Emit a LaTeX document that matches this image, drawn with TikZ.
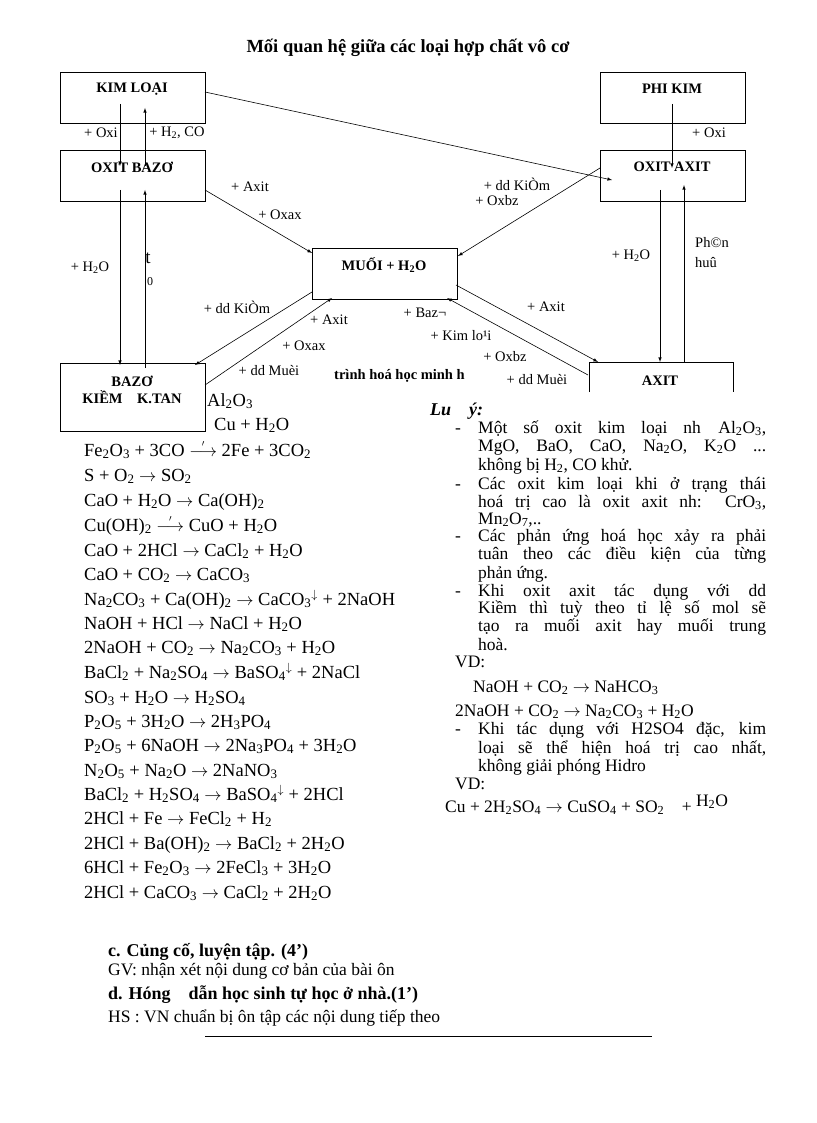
\documentclass[tikz,border=0pt]{standalone}
\usepackage{fontspec}
\setmainfont{Liberation Serif}
\usepackage{amsmath}
\newcommand{\zs}[1]{\textsubscript{#1}}
\newcommand{\ra}{ $\rightarrow$ }
\newcommand{\rat}{ $\overset{\scriptscriptstyle\prime}{\longrightarrow}$ }
\newcommand{\jl}[1]{\makebox[288pt][s]{#1}}
\begin{document}
\begin{tikzpicture}[x=1pt,y=-1pt,
  box/.style={draw,thick,minimum width=145pt,minimum height=51pt,anchor=north west,inner sep=0pt},
  btxt/.style={font=\bfseries\fontsize{14.5}{15}\selectfont},
  lbl/.style={font=\fontsize{14.5}{15}\selectfont,inner sep=1pt},
  eq/.style={font=\fontsize{18.5}{20}\selectfont,anchor=base west,inner sep=0pt},
  nt/.style={font=\fontsize{17.5}{18}\selectfont,anchor=base west,inner sep=0pt},
  arr/.style={-latex,semithick}]
\useasboundingbox (0,0) rectangle (816,1123);
\node[font=\bfseries\fontsize{18.5}{20}\selectfont] (title) at (408,48) {Mối quan hệ giữa các loại hợp chất vô cơ};
% boxes
\node[box] (kl) at (60,72) {};
\node[btxt] at (132,89) {KIM LOẠI};
\node[box] (pk) at (600,72) {};
\node[btxt] at (672,89) {PHI KIM};
\node[box] (ob) at (60,150) {};
\node[btxt] at (132,167) {OXIT BAZƠ};
\node[box] (oa) at (600,150) {};
\node[btxt] at (672,167) {OXIT AXIT};
\node[box] (mu) at (312,248) {};
\node[btxt] at (384,265) {MUỐI + H\zs{2}O};
\node[box,minimum height=68pt] (bz) at (60,363) {};
\node[btxt] at (132,381) {BAZƠ};
\node[btxt] at (132,397) {KIỀM\quad K.TAN};
\draw[thick] (589,392) -- (589,362) coordinate (ax) -- (733,362) -- (733,392);
\node[btxt] at (660,381) {AXIT};
% connectors
\coordinate (a1) at (205,92); \coordinate (a2) at (612,180);
\draw[arr] (a1) -- (a2);
\draw[arr] (120,104) -- (120,166);
\draw[arr] (145,166) -- (145,108);
\draw[arr] (672,104) -- (672,168);
\draw[arr] (120,190) -- (120,365);
\draw[arr] (145,368) -- (145,190);
\draw[arr] (205,190) -- (312,253);
\draw[arr] (600,168) -- (458,256);
\draw[arr] (660,190) -- (660,362);
\draw[arr] (684,362) -- (684,185);
\draw[arr] (312,292) -- (195,365);
\draw[arr] (205,385) -- (332,298);
\draw[arr] (456,285) -- (598,362);
\draw[arr] (588,375) -- (447,298);
% labels
\node[lbl] at (101,133) {+ Oxi};
\node[lbl] at (177,133) {+ H\zs{2}, CO};
\node[lbl] at (709,133) {+ Oxi};
\node[lbl] at (250,187) {+ Axit};
\node[lbl] at (280,215) {+ Oxax};
\node[lbl] at (90,268) {+ H\zs{2}O};
\node[font=\fontsize{19}{20}\selectfont] at (148,258) {t};
\node[lbl,font=\fontsize{12}{12}\selectfont] at (150,282) {0};
\node[lbl] at (517,184) {+ dd KiÒm};
\node[lbl] at (497,201) {+ Oxbz};
\node[lbl] at (631,256) {+ H\zs{2}O};
\node[lbl,anchor=west] at (694,243) {Ph©n};
\node[lbl,anchor=west] at (694,263) {huû};
\node[lbl] at (237,307) {+ dd KiÒm};
\node[lbl] at (329,320) {+ Axit};
\node[lbl] at (304,346) {+ Oxax};
\node[lbl] at (269,371) {+ dd Muèi};
\node[lbl] at (425,313) {+ Baz¬};
\node[lbl] at (461,336) {+ Kim lo¹i};
\node[lbl] at (505,357) {+ Oxbz};
\node[lbl] at (537,380) {+ dd Muèi};
\node[lbl] at (546,307) {+ Axit};
\node[lbl,font=\bfseries\fontsize{14.5}{15}\selectfont,anchor=west] at (333,376) {trình hoá học minh h};
% equations
\node[eq] (p1) at (207,406) {Al\zs{2}O\zs{3}};
\node[eq] (p2) at (214,430) {Cu + H\zs{2}O};
\node[eq] (e1) at (84,456) {Fe\zs{2}O\zs{3} + 3CO\rat2Fe + 3CO\zs{2}};
\node[eq] (e2) at (84,481) {S + O\zs{2}\ra SO\zs{2}};
\node[eq] (e3) at (84,506) {CaO + H\zs{2}O\ra Ca(OH)\zs{2}};
\node[eq] (e4) at (84,531) {Cu(OH)\zs{2}\rat CuO + H\zs{2}O};
\node[eq] (e5) at (84,556) {CaO + 2HCl\ra CaCl\zs{2} + H\zs{2}O};
\node[eq] (e6) at (84,580) {CaO + CO\zs{2}\ra CaCO\zs{3}};
\node[eq] (e7) at (84,605) {Na\zs{2}CO\zs{3} + Ca(OH)\zs{2}\ra CaCO\zs{3}$^\downarrow$ + 2NaOH};
\node[eq] (e8) at (84,629) {NaOH + HCl\ra NaCl + H\zs{2}O};
\node[eq] (e9) at (84,653) {2NaOH + CO\zs{2}\ra Na\zs{2}CO\zs{3} + H\zs{2}O};
\node[eq] (e10) at (84,678) {BaCl\zs{2} + Na\zs{2}SO\zs{4}\ra BaSO\zs{4}$^\downarrow$ + 2NaCl};
\node[eq] (e11) at (84,703) {SO\zs{3} + H\zs{2}O\ra H\zs{2}SO\zs{4}};
\node[eq] (e12) at (84,727) {P\zs{2}O\zs{5} + 3H\zs{2}O\ra 2H\zs{3}PO\zs{4}};
\node[eq] (e13) at (84,751) {P\zs{2}O\zs{5} + 6NaOH\ra 2Na\zs{3}PO\zs{4} + 3H\zs{2}O};
\node[eq] (e14) at (84,776) {N\zs{2}O\zs{5} + Na\zs{2}O\ra 2NaNO\zs{3}};
\node[eq] (e15) at (84,800) {BaCl\zs{2} + H\zs{2}SO\zs{4}\ra BaSO\zs{4}$^\downarrow$ + 2HCl};
\node[eq] (e16) at (84,824) {2HCl + Fe\ra FeCl\zs{2} + H\zs{2}};
\node[eq] (e17) at (84,849) {2HCl + Ba(OH)\zs{2}\ra BaCl\zs{2} + 2H\zs{2}O};
\node[eq] (e18) at (84,873) {6HCl + Fe\zs{2}O\zs{3}\ra 2FeCl\zs{3} + 3H\zs{2}O};
\node[eq] (e19) at (84,898) {2HCl + CaCO\zs{3}\ra CaCl\zs{2} + 2H\zs{2}O};
% notes
\node[nt,font=\bfseries\itshape\fontsize{18}{18}\selectfont] at (430,415) {Lu\quad ý:};
\foreach \y in {433,489,541,596,734} \node[nt] at (455,\y) {-};
\node[nt] at (478,433) {\jl{Một số oxit kim loại nh\quad Al\zs{2}O\zs{3},}};
\node[nt] at (478,451) {\jl{MgO, BaO, CaO, Na\zs{2}O, K\zs{2}O ...}};
\node[nt] at (478,470) {không bị H\zs{2}, CO khử.};
\node[nt] at (478,489) {\jl{Các oxit kim loại khi ở trạng thái}};
\node[nt] at (478,507) {\jl{hoá trị cao là oxit axit nh:\ \ CrO\zs{3},}};
\node[nt] at (478,524) {Mn\zs{2}O\zs{7},..};
\node[nt] at (478,541) {\jl{Các phản ứng hoá học xảy ra phải}};
\node[nt] at (478,559) {\jl{tuân theo các điều kiện của từng}};
\node[nt] at (478,578) {phản ứng.};
\node[nt] at (478,596) {\jl{Khi oxit axit tác dụng với dd}};
\node[nt] at (478,613) {\jl{Kiềm thì tuỳ theo tỉ lệ số mol sẽ}};
\node[nt] at (478,631) {\jl{tạo ra muối axit hay muối trung}};
\node[nt] at (478,650) {hoà.};
\node[nt] at (455,667) {VD:};
\node[nt] at (473,692) {NaOH + CO\zs{2}\ra NaHCO\zs{3}};
\node[nt] at (455,716) {2NaOH + CO\zs{2}\ra Na\zs{2}CO\zs{3} + H\zs{2}O};
\node[nt] at (478,734) {\jl{Khi tác dụng với H2SO4 đặc, kim}};
\node[nt] at (478,753) {\jl{loại sẽ thể hiện hoá trị cao nhất,}};
\node[nt] at (478,771) {không giải phóng Hidro};
\node[nt] at (455,789) {VD:};
\node[nt] at (445,812) {Cu + 2H\zs{2}SO\zs{4}\ra CuSO\zs{4} + SO\zs{2}\quad + \raisebox{6pt}{H\zs{2}O}};
% bottom
\node[nt,font=\bfseries\fontsize{18}{18}\selectfont] at (108,956) {c. Củng cố, luyện tập. (4’)};
\node[nt] at (108,975) {GV: nhận xét nội dung cơ bản của bài ôn};
\node[nt,font=\bfseries\fontsize{18}{18}\selectfont] at (108,999) {d. Hóng\quad dẫn học sinh tự học ở nhà.(1’)};
\node[nt] at (108,1022) {HS : VN chuẩn bị ôn tập các nội dung tiếp theo};
\coordinate (l1) at (205,1036); \coordinate (l2) at (652,1036);
\draw (l1) -- (l2);
\end{tikzpicture}
\end{document}
